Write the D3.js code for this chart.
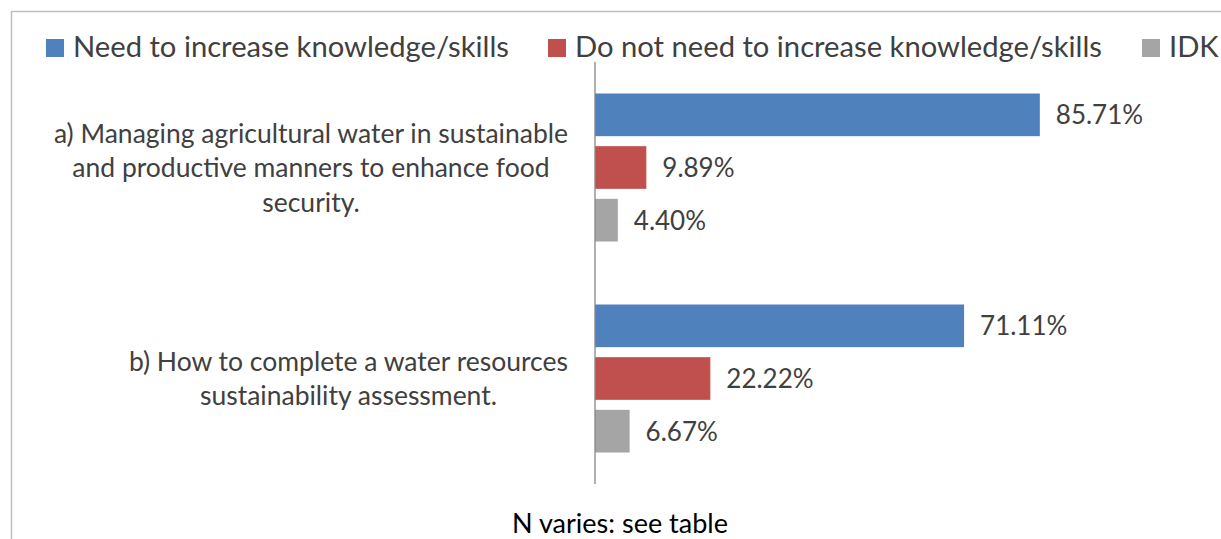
<!DOCTYPE html>
<html lang="en">
	<head>
		<meta charset="utf-8">
		<title>Knowledge / skills bar chart</title>
		<script type="text/javascript" src="https://d3js.org/d3.v7.min.js"></script>
		<style type="text/css">
		body {
			margin: 0;
			background: #fff;
		}
		svg text {
			font-family: Lato, "Open Sans", sans-serif;
			fill: #404040;
		}
		.frame {
			fill: none;
			stroke: #bfbfbf;
			stroke-width: 1.5;
		}
		.axisLine {
			stroke: #868686;
			stroke-width: 1.3;
		}
		</style>
	</head>
	<body>
		<script type="text/javascript">

		var categories = [
			["a) Managing agricultural water in sustainable", "and productive manners to enhance food", "security."],
			["b) How to complete a water resources", "sustainability assessment."]
		];
		var seriesNames = ["Need to increase knowledge/skills", "Do not need to increase knowledge/skills", "IDK"];
		var needValues = [85.71, 71.11];
		var notNeedValues = [9.89, 22.22];
		var idkValues = [4.40, 6.67];
		var colors = ["#4f81bd", "#c0504d", "#a5a5a5"];
		var footnote = "N varies: see table";

		var seriesValues = [needValues, notNeedValues, idkValues];

		var width = 1221, height = 539;
		var plot = {left: 595, top: 62, bottom: 484};

		var svg = d3.select("body")
			.append("svg")
			.attr("width", width)
			.attr("height", height);

		svg.append("rect")
			.attr("class", "frame")
			.attr("x", 11.5)
			.attr("y", 11.5)
			.attr("width", width + 20)
			.attr("height", height + 20);

		var xScale = d3.scaleLinear()
			.domain([0, 100])
			.range([plot.left, plot.left + 519]);

		var yScale = d3.scaleBand()
			.domain(d3.range(categories.length))
			.range([plot.top, plot.bottom]);

		var inner = d3.scaleBand()
			.domain(d3.range(seriesNames.length))
			.range([31.5, yScale.bandwidth() - 31.5])
			.paddingInner(0.19);

		// bars + value labels
		seriesValues.forEach(function(vals, s) {
			var g = svg.append("g");
			g.selectAll("rect")
				.data(vals)
				.enter()
				.append("rect")
				.attr("x", xScale(0))
				.attr("y", function(d, i) { return yScale(i) + inner(s); })
				.attr("width", function(d) { return xScale(d) - xScale(0); })
				.attr("height", inner.bandwidth())
				.attr("fill", colors[s]);

			g.selectAll("text")
				.data(vals)
				.enter()
				.append("text")
				.attr("x", function(d) { return xScale(d) + 16; })
				.attr("y", function(d, i) { return yScale(i) + inner(s) + inner.bandwidth() / 2; })
				.attr("dy", "0.36em")
				.style("font-size", "26px")
				.text(function(d) { return d.toFixed(2) + "%"; });
		});

		svg.append("line")
			.attr("class", "axisLine")
			.attr("x1", xScale(0))
			.attr("x2", xScale(0))
			.attr("y1", plot.top)
			.attr("y2", plot.bottom);

		// category labels: block right-aligned to the axis, lines centred in block
		var lineGap = 34.5;
		categories.forEach(function(lines, c) {
			var t = svg.append("text")
				.style("font-size", "26.5px")
				.attr("text-anchor", "middle");
			var spans = t.selectAll("tspan")
				.data(lines)
				.enter()
				.append("tspan")
				.text(function(d) { return d; });
			var maxW = 0;
			spans.each(function() { maxW = Math.max(maxW, this.getComputedTextLength()); });
			var cx = xScale(0) - 27 - maxW / 2;
			var cy = yScale(c) + yScale.bandwidth() / 2;
			spans.attr("x", cx)
				.attr("y", function(d, i) { return cy + (i - (lines.length - 1) / 2) * lineGap; })
				.attr("dy", "0.36em");
		});

		// legend
		var legendX = [46, 548, 1142];
		var legend = svg.append("g");
		seriesNames.forEach(function(name, s) {
			legend.append("rect")
				.attr("x", legendX[s])
				.attr("y", 39)
				.attr("width", 18)
				.attr("height", 18)
				.attr("fill", colors[s]);
			legend.append("text")
				.attr("x", legendX[s] + 27)
				.attr("y", 57)
				.style("font-size", "29.2px")
				.text(name);
		});

		svg.append("text")
			.attr("x", 620)
			.attr("y", 533)
			.attr("text-anchor", "middle")
			.style("font-size", "27px")
			.style("fill", "#000")
			.text(footnote);

		</script>
	</body>
</html>
